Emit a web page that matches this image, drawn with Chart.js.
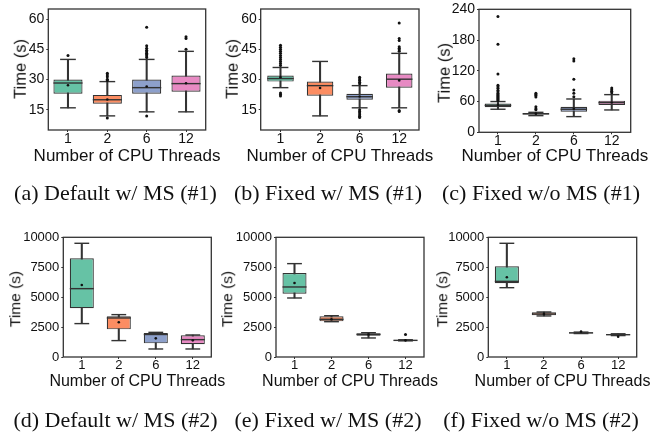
<!DOCTYPE html>
<html><head><meta charset="utf-8">
<script src="https://cdn.jsdelivr.net/npm/chart.js@4.4.1/dist/chart.umd.min.js"></script>
<style>
html,body{margin:0;padding:0;background:#fff;width:667px;height:432px;overflow:hidden;position:relative;}
canvas{position:absolute;}
.t{position:absolute;white-space:nowrap;font-family:"Liberation Sans",Arial,sans-serif;line-height:1;color:#111;transform:translate(-50%,-50%);}
.yt{transform:translate(-50%,-50%) rotate(-90deg);}
.cap{position:absolute;white-space:nowrap;font-family:"Liberation Serif","Times New Roman",serif;font-size:22px;line-height:1;color:#111;transform:translate(-50%,-50%);}
</style></head><body>
<script>
// ---------- data ----------
const categories = ['1', '2', '6', '12'];
const boxColors = ['#66c2a5', '#fc8d62', '#8da0cb', '#e78ac3'];
const xTitle = 'Number of CPU Threads';
const yTitle = 'Time (s)';

const secTicks = [15, 30, 45, 60];
const cTicks = [0, 60, 120, 180, 240];
const longTicks = [0, 2500, 5000, 7500, 10000];

// (a) Default w/ MS (#1)
const aQ1 = [23, 18, 23, 24];
const aQ3 = [30, 22.4, 30, 32];
const aMed = [28.3, 20, 26, 28];
const aMean = [27.2, 20.1, 26.6, 28.2];
const aWLo = [16, 12, 14, 14];
const aWHi = [40, 29, 40, 44];
const aOut = [[42], [29.6, 30.2, 31.4, 32.3, 33.2, 11], [41, 41.7, 42.4, 43.1, 43.8, 44.5, 45.5, 46.8, 56, 12], [45, 50.4, 51.2]];

// (b) Fixed w/ MS (#1)
const bQ1 = [29, 22, 20, 26];
const bQ3 = [32, 29, 23, 33];
const bMed = [30.5, 27, 21.5, 30.2];
const bMean = [31.2, 25.8, 21.6, 29.6];
const bWLo = [26, 12, 16, 16];
const bWHi = [36, 39, 27, 43];
const bOut = [[37, 38, 39, 40, 41, 42, 43, 44, 45, 46, 47, 23.4, 22.6, 21.8], [], [27.9, 28.7, 29.5, 30.3, 31.1, 15, 14.2, 13.4, 12.6, 11.8, 11.2], [44, 44.8, 45.5, 46.3, 49.4, 50.4, 58, 14.7, 14.2]];

// (c) Fixed w/o MS (#1)
const cQ1 = [49, 34.5, 40, 53.3];
const cQ3 = [56, 37.5, 50, 61.8];
const cMed = [52.5, 36, 45, 57.9];
const cMean = [53.5, 36.5, 46, 58.2];
const cWLo = [45, 32.5, 30.6, 43.6];
const cWHi = [60, 39, 65, 73.5];
const cOut = [[62, 64, 66, 68, 70, 72, 74, 76, 79, 82, 86, 89, 92, 114, 172, 226], [44, 46, 50, 69, 72, 74, 76], [69.6, 76, 82.6, 103.4, 139, 143.7], [77, 80, 83, 86.5]];

// (d) Default w/ MS (#2)
const dQ1 = [4070, 2310, 1140, 1060];
const dQ3 = [8245, 3400, 2000, 1810];
const dMed = [5710, 3260, 1880, 1450];
const dMean = [6017, 2900, 1560, 1390];
const dWLo = [2790, 1370, 670, 670];
const dWHi = [9500, 3540, 2060, 1840];
const dOut = [[], [], [], []];

// (e) Fixed w/ MS (#2)
const eQ1 = [5290, 2980, 1780, 1365];
const eQ3 = [7020, 3400, 1980, 1420];
const eMed = [5850, 3150, 1890, 1390];
const eMean = [6180, 3150, 1880, 1390];
const eWLo = [4930, 2950, 1590, 1350];
const eWHi = [7800, 3450, 2030, 1440];
const eOut = [[], [], [], [1890]];

// (f) Fixed w/o MS (#2)
const fQ1 = [6160, 3480, 1980, 1810];
const fQ3 = [7580, 3730, 2060, 1920];
const fMed = [6320, 3590, 2010, 1865];
const fMean = [6660, 3600, 2120, 1700];
const fWLo = [5790, 3430, 1960, 1790];
const fWHi = [9500, 3760, 2080, 1940];
const fOut = [[], [], [], []];

const captions = ['(a) Default w/ MS (#1)', '(b) Fixed w/ MS (#1)', '(c) Fixed w/o MS (#1)',
                  '(d) Default w/ MS (#2)', '(e) Fixed w/ MS (#2)', '(f) Fixed w/o MS (#2)'];

// ---------- layout ----------
const panels = [
  {q1:aQ1,q3:aQ3,med:aMed,mean:aMean,wlo:aWLo,whi:aWHi,out:aOut,min:5,max:65,ticks:secTicks,
   area:{L:48.3,T:4,R:205.7,B:130},cv:{x:0,y:0,w:220,h:150},bp:0.74,ytx:20,xty:155,cap:[115.5,193],fs:[14,17,16.5]},
  {q1:bQ1,q3:bQ3,med:bMed,mean:bMean,wlo:bWLo,whi:bWHi,out:bOut,min:5,max:65,ticks:secTicks,
   area:{L:260.7,T:4,R:419,B:130},cv:{x:215,y:0,w:225,h:150},bp:0.67,ytx:231.7,xty:155,cap:[328,193],fs:[14,17,16.5]},
  {q1:cQ1,q3:cQ3,med:cMed,mean:cMean,wlo:cWLo,whi:cWHi,out:cOut,min:0,max:240,ticks:cTicks,
   area:{L:479,T:9.3,R:630.7,B:132.3},cv:{x:440,y:0,w:227,h:150},bp:0.7,ytx:444,xty:155,cap:[541,193],fs:[14,17,16.5]},
  {q1:dQ1,q3:dQ3,med:dMed,mean:dMean,wlo:dWLo,whi:dWHi,out:dOut,min:0,max:10000,ticks:longTicks,
   area:{L:63.3,T:237.3,R:211.3,B:357},cv:{x:0,y:220,w:220,h:150},bp:0.65,ytx:15,xty:381,cap:[115.5,420],fs:[13,16,15.5]},
  {q1:eQ1,q3:eQ3,med:eMed,mean:eMean,wlo:eWLo,whi:eWHi,out:eOut,min:0,max:10000,ticks:longTicks,
   area:{L:276,T:237.3,R:424,B:357},cv:{x:215,y:220,w:225,h:150},bp:0.65,ytx:226.7,xty:381,cap:[328,420],fs:[13,16,15.5]},
  {q1:fQ1,q3:fQ3,med:fMed,mean:fMean,wlo:fWLo,whi:fWHi,out:fOut,min:0,max:10000,ticks:longTicks,
   area:{L:488.3,T:237.3,R:636.7,B:357},cv:{x:440,y:220,w:227,h:150},bp:0.65,ytx:442,xty:381,cap:[541,420],fs:[13,16,15.5]}
];

const boxPlugin = {
  id: 'boxExtras',
  afterDatasetDraw(chart, args) {
    const ds = chart.data.datasets[args.index];
    if (ds._role !== 'box') return;
    const p = ds._panel;
    const ctx = chart.ctx, x = chart.scales.x, y = chart.scales.y;
    const catW = (chart.chartArea.right - chart.chartArea.left) / categories.length;
    const capW = catW * 0.4;
    ctx.save();
    ctx.strokeStyle = '#333';
    ctx.lineWidth = 1.4;
    args.meta.data.forEach((el, i) => {
      const cx = x.getPixelForValue(i);
      const hw = el.width / 2;
      const my = y.getPixelForValue(p.med[i]);
      ctx.beginPath(); ctx.moveTo(cx - hw, my); ctx.lineTo(cx + hw, my); ctx.stroke();
      [p.wlo[i], p.whi[i]].forEach(v => {
        const yy = y.getPixelForValue(v);
        ctx.beginPath(); ctx.moveTo(cx - capW / 2, yy); ctx.lineTo(cx + capW / 2, yy); ctx.stroke();
      });
    });
    ctx.restore();
  },
  afterDraw(chart) {
    const a = chart.chartArea, ctx = chart.ctx;
    ctx.save();
    ctx.strokeStyle = '#333';
    ctx.lineWidth = 1.3;
    ctx.strokeRect(a.left, a.top, a.right - a.left, a.bottom - a.top);
    ctx.restore();
  }
};

function addText(cls, txt, x, y, fs) {
  const d = document.createElement('div');
  d.className = cls;
  d.textContent = txt;
  d.style.left = x + 'px';
  d.style.top = y + 'px';
  if (fs) d.style.fontSize = fs + 'px';
  document.body.appendChild(d);
}

panels.forEach((p, k) => {
  const cv = document.createElement('canvas');
  cv.width = p.cv.w; cv.height = p.cv.h;
  cv.style.left = p.cv.x + 'px'; cv.style.top = p.cv.y + 'px';
  cv.style.width = p.cv.w + 'px'; cv.style.height = p.cv.h + 'px';
  document.body.appendChild(cv);
  const yW = p.area.L - p.cv.x;
  const xH = p.cv.y + p.cv.h - p.area.B;
  const padTop = p.area.T - p.cv.y;
  const padRight = p.cv.x + p.cv.w - p.area.R;
  const tickFont = {family: '"Liberation Sans", Arial, sans-serif', size: p.fs[0], lineHeight: 1};

  const outPts = [];
  p.out.forEach((arr, i) => arr.forEach(v => outPts.push({x: categories[i], y: v})));
  const meanPts = p.mean.map((v, i) => ({x: categories[i], y: v}));

  new Chart(cv, {
    type: 'bar',
    data: {
      labels: categories,
      datasets: [
        {type: 'line', data: outPts, showLine: false, pointRadius: 1.5, pointBorderWidth: 0,
         pointBackgroundColor: '#111', order: 0},
        {type: 'line', data: meanPts, showLine: false, pointRadius: 1.3, pointBorderWidth: 0,
         pointBackgroundColor: '#111', order: 1},
        {_role: 'box', _panel: p, data: p.q1.map((v, i) => [v, p.q3[i]]),
         backgroundColor: boxColors, borderColor: '#333', borderWidth: 1.2, borderSkipped: false,
         barPercentage: p.bp, categoryPercentage: 1, grouped: false, order: 2},
        {data: p.wlo.map((v, i) => [v, p.whi[i]]), backgroundColor: '#333', borderWidth: 0,
         barThickness: 1.4, grouped: false, order: 3}
      ]
    },
    options: {
      responsive: false,
      animation: false,
      events: [],
      layout: {padding: {top: padTop, right: padRight, left: 0, bottom: 0}},
      plugins: {legend: {display: false}, tooltip: {enabled: false}},
      scales: {
        x: {
          type: 'category', offset: true,
          grid: {display: true, drawOnChartArea: false, offset: false, tickLength: 2, color: '#333'},
          border: {display: false},
          ticks: {font: tickFont, color: '#111', padding: 0, maxRotation: 0},
          afterFit: s => { s.height = xH; }
        },
        y: {
          min: p.min, max: p.max,
          afterBuildTicks: s => { s.ticks = p.ticks.map(v => ({value: v})); },
          grid: {display: true, drawOnChartArea: false, tickLength: 2, color: '#333'},
          border: {display: false},
          ticks: {font: tickFont, color: '#111', padding: 2, callback: v => String(v)},
          afterFit: s => { s.width = yW; }
        }
      }
    },
    plugins: [boxPlugin]
  });

  addText('t yt', yTitle, p.ytx, (p.area.T + p.area.B) / 2 + 2, p.fs[2]);
  addText('t', xTitle, (p.area.L + p.area.R) / 2, p.xty, p.fs[1]);
  addText('cap', captions[k], p.cap[0], p.cap[1]);
});
</script>
</body></html>
